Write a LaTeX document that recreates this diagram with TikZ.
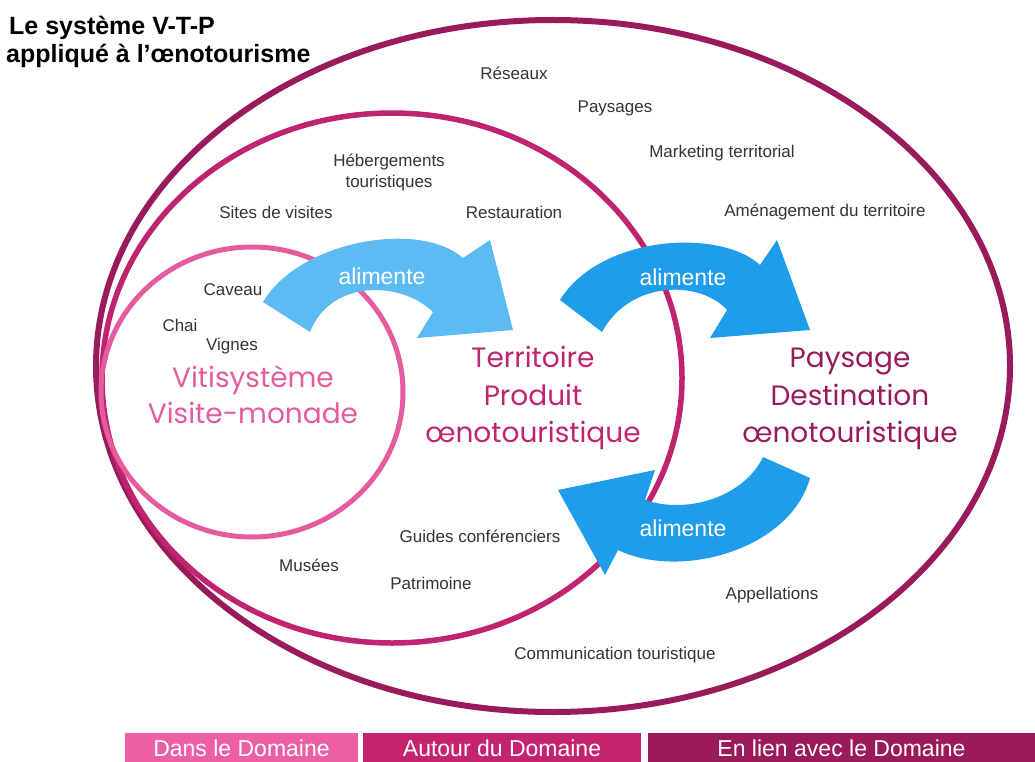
\documentclass[tikz,border=0pt]{standalone}
\usepackage{fontspec}
\setmainfont{Liberation Sans}
\newfontfamily\handfont{Poppins}
\definecolor{vitipink}{HTML}{E65A9E}
\definecolor{terrmagenta}{HTML}{C1246F}
\definecolor{paysplum}{HTML}{9A1B5B}
\definecolor{legpink}{HTML}{EC5FA4}
\definecolor{legmagenta}{HTML}{C5236F}
\definecolor{legplum}{HTML}{9B1A5A}
\definecolor{feedlight}{HTML}{5CBBF2}
\definecolor{feeddeep}{HTML}{1F9DEB}
\definecolor{labelgray}{HTML}{333333}

\begin{document}
\begin{tikzpicture}[x=1pt,y=-1pt,
  lbl/.style={anchor=center, text=labelgray, align=center, inner sep=0pt, font=\fontsize{17}{21}\selectfont},
  feedtext/.style={anchor=center, text=white, inner sep=0pt, font=\fontsize{23}{26}\selectfont},
  hand/.style={anchor=base, inner sep=0pt, font=\handfont\fontsize{28}{32}\selectfont},
  legtext/.style={anchor=center, text=white, inner sep=0pt, font=\fontsize{23}{26}\selectfont},
  titletext/.style={anchor=base west, inner sep=0pt, font=\bfseries\fontsize{25}{30}\selectfont}]
\useasboundingbox (0,0) rectangle (1035,762);

\draw[paysplum, line width=6] (553,366) ellipse [x radius=457, y radius=346];
\draw[terrmagenta, line width=5.5] (392,378) ellipse [x radius=290, y radius=265];
\draw[vitipink, line width=5] (252,392) ellipse [x radius=151, y radius=145];

\fill[feedlight] (263,302) .. controls (300,240) and (420,220) .. (463,258) -- (490,240) -- (513,330)
  -- (417,338) -- (433,312) .. controls (400,280) and (330,280) .. (310,332) -- cycle;
\fill[feeddeep] (560,300) .. controls (600,235) and (720,228) .. (760,265) -- (777,240) -- (810,330)
  -- (710,338) -- (727,310) .. controls (700,280) and (630,280) .. (602,332) -- cycle;
\fill[feeddeep] (810,478) .. controls (790,550) and (680,580) .. (618,550) -- (605,575) -- (558,490)
  -- (655,470) -- (645,500) .. controls (690,515) and (745,495) .. (763,457) -- cycle;

\node[feedtext] (feedA) at (382,276) {alimente};
\node[feedtext] (feedB) at (683,277) {alimente};
\node[feedtext] (feedC) at (683,528) {alimente};

\node[titletext] (titleA) at (9,35) {Le système V-T-P};
\node[titletext] (titleB) at (6,63) {appliqué à l’œnotourisme};

\node[lbl] (reseaux) at (514,73) {Réseaux};
\node[lbl] (paysages) at (615,108) {Paysages};
\node[lbl] (marketing) at (722,153) {Marketing territorial};
\node[lbl] (hebergements) at (389,172.5) {Hébergements\\touristiques};
\node[lbl] (sites) at (276,212) {Sites de visites};
\node[lbl] (restauration) at (514,212) {Restauration};
\node[lbl] (amenagement) at (825,212) {Aménagement du territoire};
\node[lbl] (caveau) at (233,290) {Caveau};
\node[lbl] (chai) at (180,325) {Chai};
\node[lbl] (vignes) at (232,346) {Vignes};
\node[lbl] (guides) at (480,536) {Guides conférenciers};
\node[lbl] (musees) at (309,565) {Musées};
\node[lbl] (patrimoine) at (431,583) {Patrimoine};
\node[lbl] (appellations) at (772,595) {Appellations};
\node[lbl] (communication) at (615,655) {Communication touristique};

\node[hand, text=vitipink] (vitiA) at (253,387) {Vitisystème};
\node[hand, text=vitipink] (vitiB) at (253,423) {Visite-monade};
\node[hand, text=terrmagenta] (terrA) at (533,367) {Territoire};
\node[hand, text=terrmagenta] (terrB) at (533,405) {Produit};
\node[hand, text=terrmagenta] (terrC) at (533,442) {œnotouristique};
\node[hand, text=paysplum] (paysA) at (850,367) {Paysage};
\node[hand, text=paysplum] (paysB) at (850,405) {Destination};
\node[hand, text=paysplum] (paysC) at (850,442) {œnotouristique};

\fill[legpink] (125,733) rectangle (358,762);
\fill[legmagenta] (363,733) rectangle (641,762);
\fill[legplum] (648,733) rectangle (1035,762);
\node[legtext] (legdans) at (241.5,748) {Dans le Domaine};
\node[legtext] (legautour) at (502,748) {Autour du Domaine};
\node[legtext] (legenlien) at (841.5,748) {En lien avec le Domaine};
\end{tikzpicture}
\end{document}
